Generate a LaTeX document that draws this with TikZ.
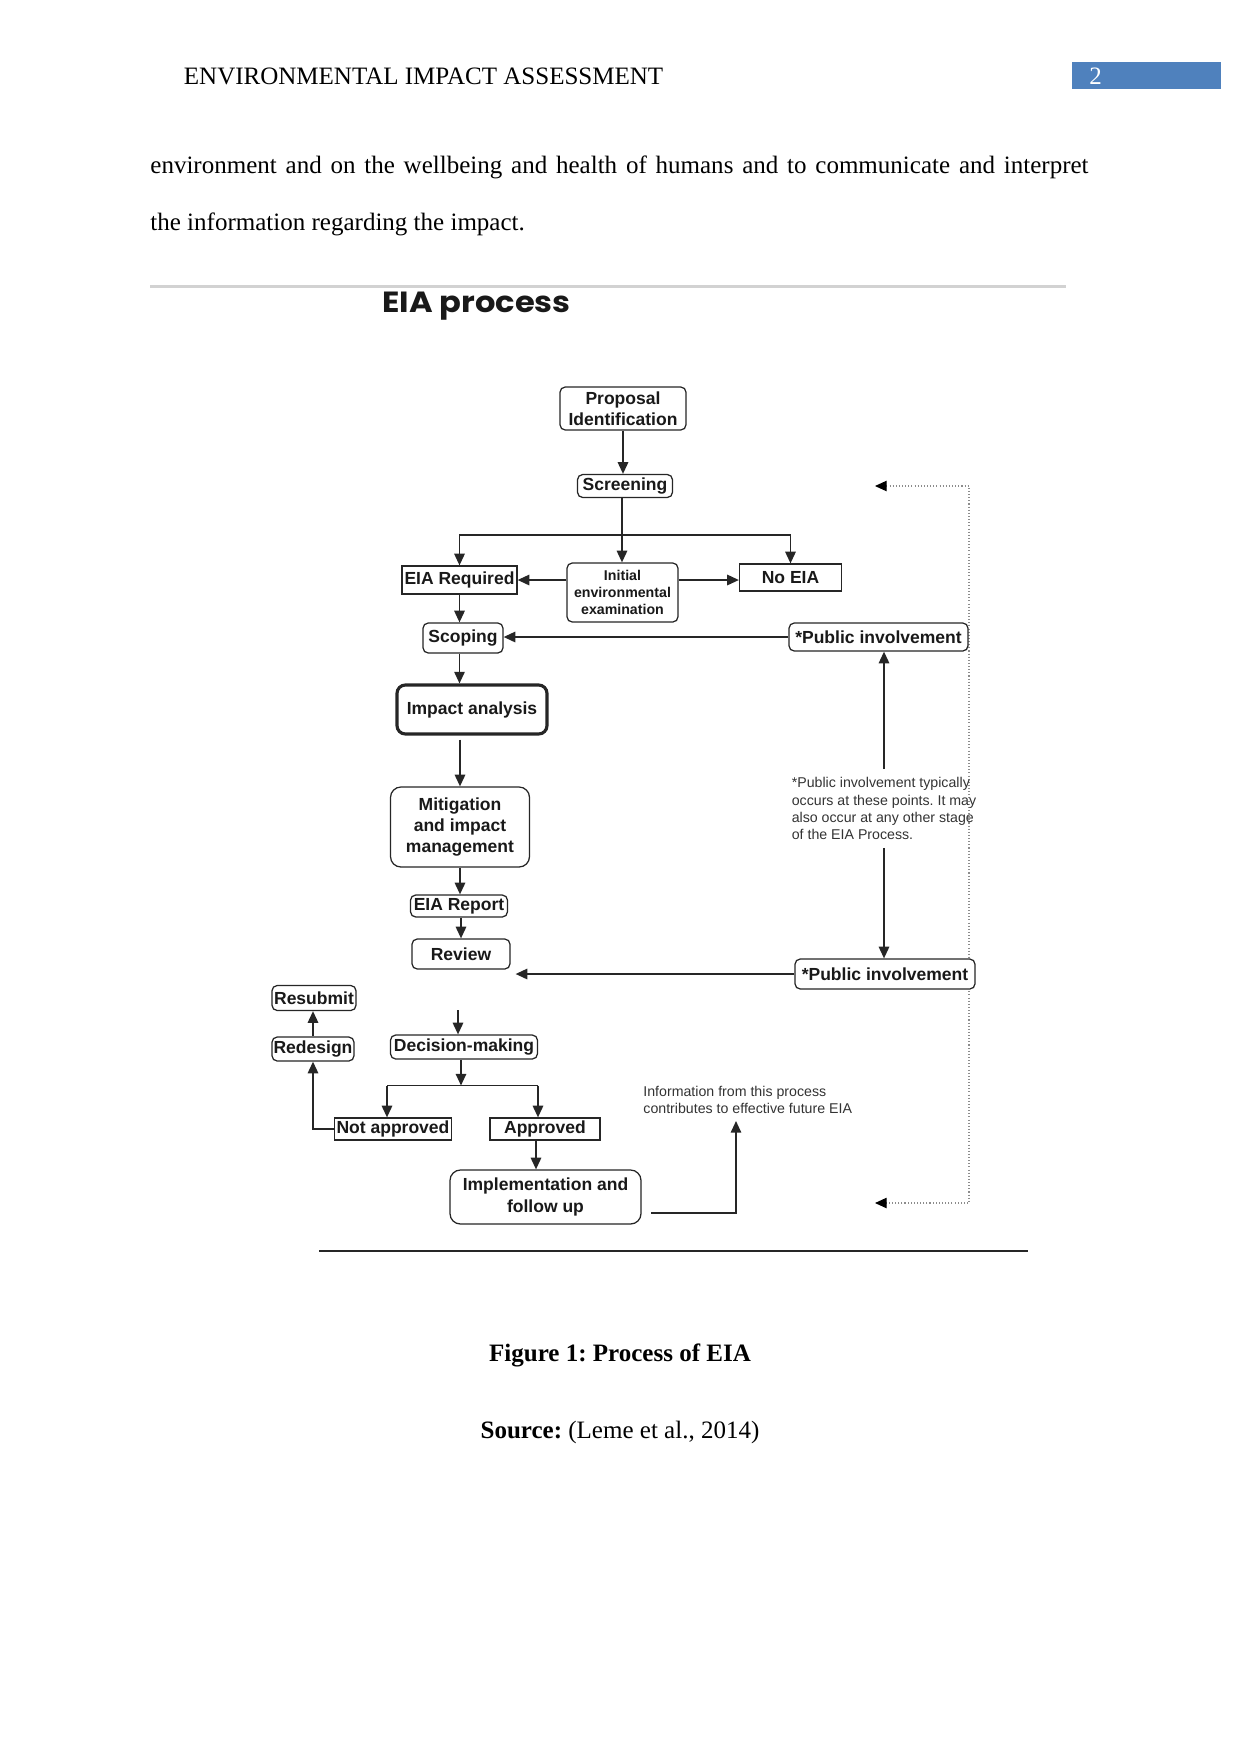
\documentclass[tikz,border=0pt]{standalone}
\usepackage{fontspec}
\setmainfont{Liberation Serif}
\newfontfamily\diafont{Liberation Sans}
\newfontfamily\titlefont{Poppins}[FakeStretch=1.1]
\usetikzlibrary{arrows.meta,calc}
\definecolor{hdrblue}{HTML}{4F81BD}
\frenchspacing
\tikzset{
  sz/.style 2 args={minimum width=#1*0.47968pt,minimum height=#2*0.47968pt},
  bx/.style={draw=black!85,fill=white,line width=0.6pt,rounded corners=2.5pt,inner sep=0pt,align=center,
     font=\diafont\bfseries\fontsize{8.4}{10}\selectfont,text=black!90},
  rbx/.style={bx,rounded corners=0pt},
  arr/.style={draw=black!85,line width=0.8pt,-{Triangle[length=5.6pt,width=5pt]}},
  ln/.style={draw=black!85,line width=0.8pt},
  dotln/.style={draw=black!45,line width=0.5pt,densely dotted},
  notefont/.style={font=\diafont\fontsize{6.8}{8.2}\selectfont,text=black!80,inner sep=0pt},
  bodytxt/.style={font=\fontsize{12}{14}\selectfont,inner sep=0pt}
}
\begin{document}
\begin{tikzpicture}[x=0.47968pt,y=-0.47968pt]
\useasboundingbox (0,0) rectangle (1241,1754);
% header
\node[bodytxt,anchor=base west] (hdr) at (183.5,84) {ENVIRONMENTAL IMPACT ASSESSMENT};
\node[fill=hdrblue,sz={149}{27},inner sep=0pt,anchor=north west] (pgbox) at (1072,61.5) {};
\node[bodytxt,anchor=base west,text=white] (pgno) at (1089,84) {2};
% body text
\node[bodytxt,anchor=base west] (l1) at (150,173.5) {\makebox[450pt][s]{environment and on the wellbeing and health of humans and to communicate and interpret}};
\node[bodytxt,anchor=base west] (l2) at (150,230.5) {the information regarding the impact.};
% figure frame lines
\draw[gray!35,line width=1pt] (150,286.5) -- (1066,286.5);
\draw[black!85,line width=1.1pt] (319,1251) -- (1028,1251);
\node[font=\titlefont\bfseries\fontsize{14}{16}\selectfont,anchor=base west,inner sep=0pt,text=black!90] (title) at (382,312) {EIA process};
% dotted feedback
\coordinate (dTip1) at (875,486);
\coordinate (dTR) at (969,486);
\coordinate (dBR) at (969,1203);
\coordinate (dTip2) at (875,1203);
\draw[dotln,{Triangle[length=5.6pt,width=5pt,black]}-{Triangle[length=5.6pt,width=5pt,black]}] (dTip1) -- (dTR) -- (dBR) -- (dTip2);
% nodes
\node[bx,sz={126}{43}] (prop) at (623,408.5) {Proposal\\Identification};
\node[bx,sz={95}{23}] (scr) at (625,486) {Screening};
\node[rbx,sz={115}{28}] (eiar) at (459.5,580) {EIA Required};
\node[bx,sz={111}{59},font=\diafont\bfseries\fontsize{6.8}{8.3}\selectfont] (iee) at (622.5,592.5) {Initial\\environmental\\examination};
\node[rbx,sz={102}{27}] (noeia) at (790.5,577.5) {No EIA};
\node[bx,sz={80}{30}] (scop) at (463,638) {Scoping};
\node[bx,sz={179}{28}] (pi1) at (878.5,637) {*Public involvement};
\node[bx,sz={150}{49},line width=1.5pt,rounded corners=4pt] (imp) at (472,709.5) {Impact analysis};
\node[bx,sz={139}{80},rounded corners=5pt,font=\diafont\bfseries\fontsize{8.4}{9.9}\selectfont] (mit) at (460,827) {Mitigation\\and impact\\management};
\node[bx,sz={97}{22}] (rep) at (459,906) {EIA Report};
\node[bx,sz={98}{30}] (rev) at (461,954) {Review};
\node[bx,sz={180}{30}] (pi2) at (885,974) {*Public involvement};
\node[bx,sz={84}{25}] (resub) at (314,998) {Resubmit};
\node[bx,sz={82}{24}] (redes) at (313,1049) {Redesign};
\node[bx,sz={147}{24}] (dec) at (464,1047) {Decision-making};
\node[rbx,sz={117}{22}] (notap) at (393,1129) {Not approved};
\node[rbx,sz={110}{22}] (appr) at (545,1129) {Approved};
\node[bx,sz={191}{54},rounded corners=5pt,font=\diafont\bfseries\fontsize{8.4}{10.2}\selectfont] (impl) at (545.5,1197) {Implementation and\\follow up};
\node[notefont,align=left] (note) at (884,808.5) {*Public involvement typically\\occurs at these points. It may\\also occur at any other stage\\of the EIA Process.};
\node[notefont,align=left,anchor=north west] (info) at (643,1085.5) {Information from this process\\contributes to effective future EIA};
% connectors
\draw[arr] (prop.south) -- (prop.south |- scr.north);
\coordinate (brc) at (622,535);
\draw[ln] (scr.south -| brc) -- (brc);
\draw[arr] (brc) -- (brc |- iee.north);
\draw[arr] (brc) -| (eiar.north);
\draw[arr] (brc) -| (noeia.north);
\draw[arr] (iee.west |- eiar.east) -- (eiar.east);
\draw[arr] (iee.east |- 0,580) -- (noeia.west |- 0,580);
\draw[arr] (eiar.south) -- (eiar.south |- scop.north);
\draw[arr] (pi1.west) -- (pi1.west -| scop.east);
\draw[arr] (scop.south -| eiar.south) -- (eiar.south |- imp.north);
\draw[arr] ($(imp.south -| mit.north)+(0,4)$) -- (mit.north);
\draw[arr] (mit.south) -- (mit.south |- rep.north);
\draw[arr] (rep.south -| rev.north) -- (rev.north);
\draw[arr] (pi2.west) -- ($(pi2.west -| rev.east)+(5,0)$);
\draw[arr] ($(note.north)+(0,-8)$) -- (note.north |- pi1.south);
\draw[arr] ($(note.south)+(0,8)$) -- (note.south |- pi2.north);
\coordinate (decIn) at (458,1010);
\draw[arr] (decIn) -- (decIn |- dec.north);
\coordinate (br2) at (461,1085.5);
\coordinate (bl) at (387,1085.5);
\coordinate (brr) at (538,1085.5);
\draw[arr] (dec.south -| br2) -- (br2);
\draw[ln] (bl) -- (brr);
\draw[arr] (bl) -- (bl |- notap.north);
\draw[arr] (brr) -- (brr |- appr.north);
\draw[arr] (notap.west) -| (redes.south);
\draw[arr] (redes.north) -- (redes.north |- resub.south);
\coordinate (apOut) at (536,1140);
\draw[arr] (apOut) -- (apOut |- impl.north);
\coordinate (implOut) at (651,1213);
\coordinate (infoIn) at (736,1121);
\draw[arr] (implOut) -| (infoIn);
% caption
\node[bodytxt,anchor=base] (cap) at (620,1361) {\textbf{Figure 1: Process of EIA}};
\node[bodytxt,anchor=base] (src) at (620,1438) {\textbf{Source:} (Leme et al., 2014)};
\end{tikzpicture}
\end{document}
